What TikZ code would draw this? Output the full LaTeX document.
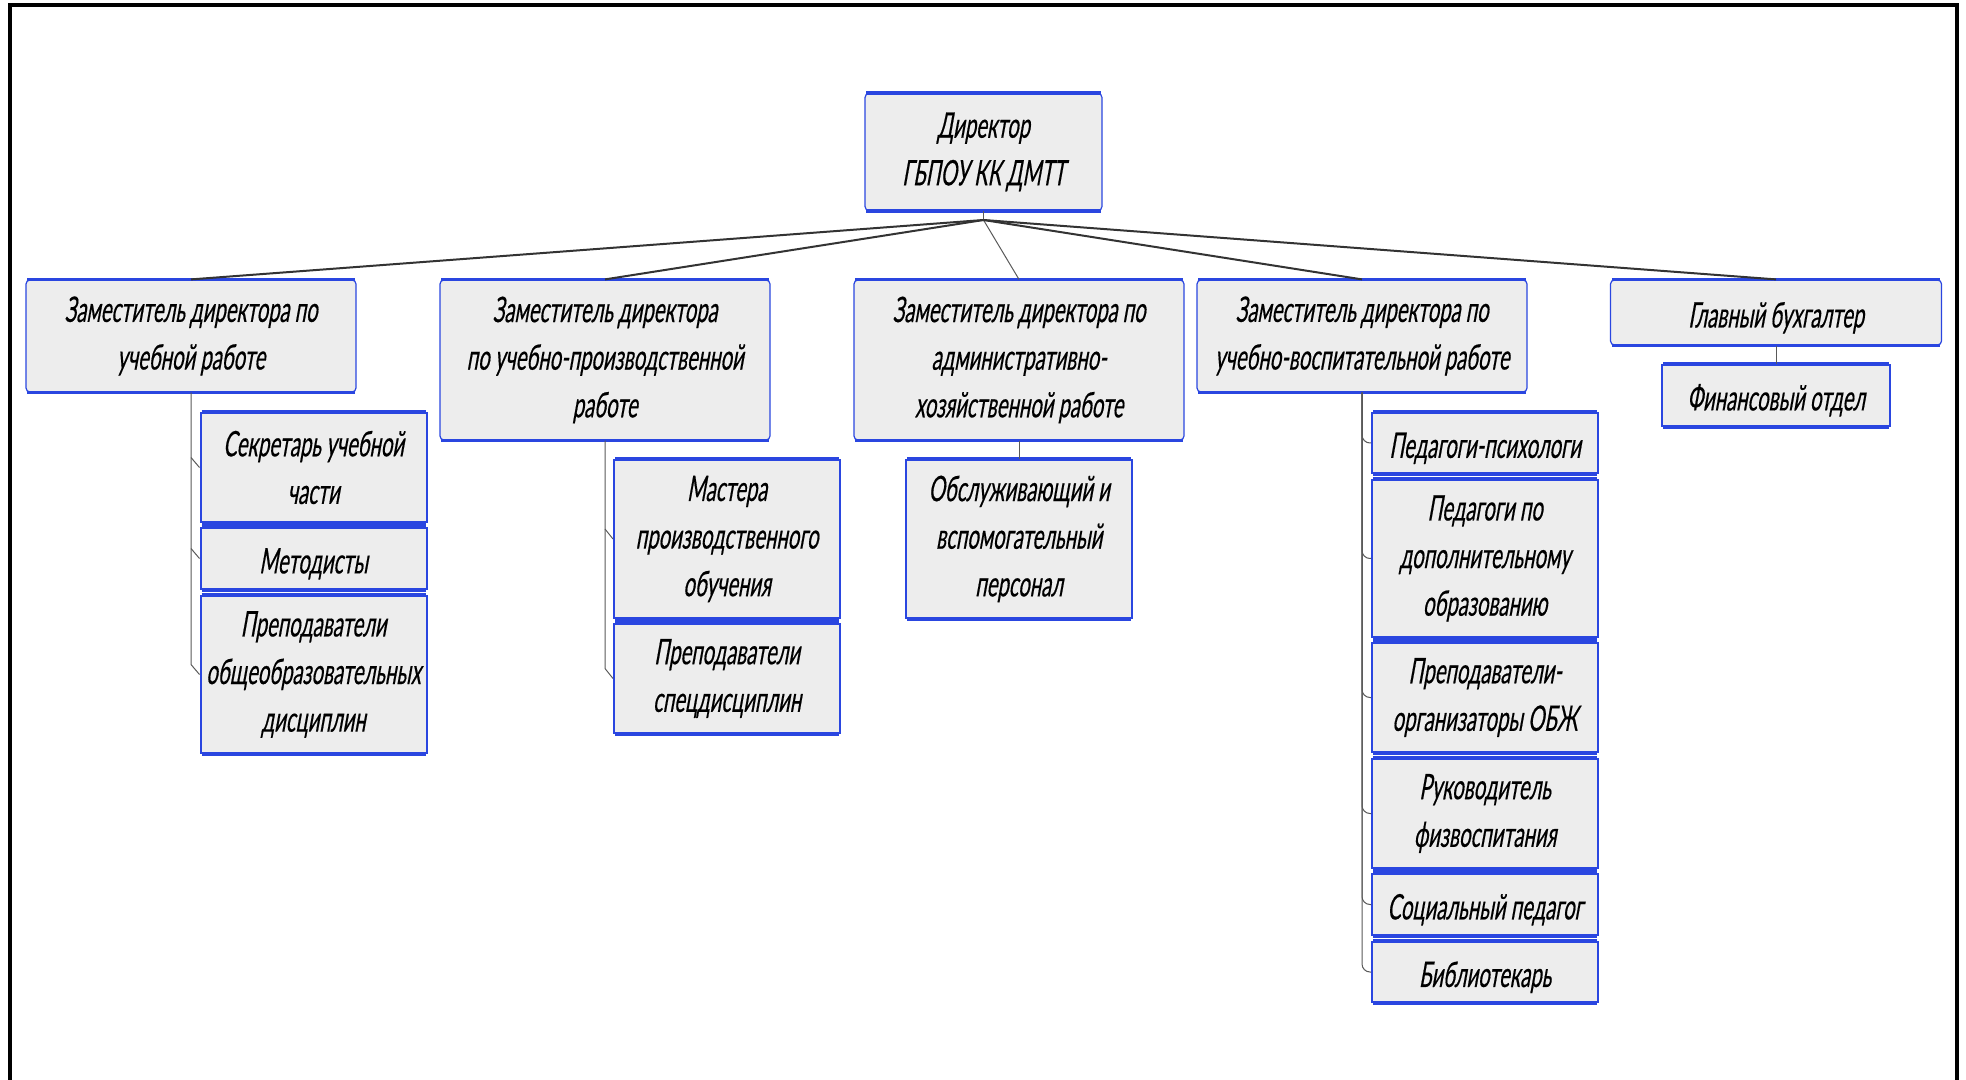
\documentclass[tikz,border=0pt]{standalone}
\usepackage{fontspec}
\usetikzlibrary{calc}
\newfontfamily\orgfont{Lato}[FakeStretch=0.575,FakeSlant=0.18,FakeBold=0.4]
\definecolor{orgblue}{HTML}{2A46E0}
\definecolor{boxgray}{HTML}{EDEDED}

\tikzstyle{boxedge} = [append after command={
	([xshift=1pt]\tikzlastnode.north west) edge[draw=orgblue,line width=1.7pt] ([xshift=-1pt]\tikzlastnode.north east)
	([xshift=1pt]\tikzlastnode.south west) edge[draw=orgblue,line width=1.7pt] ([xshift=-1pt]\tikzlastnode.south east)}]
\tikzstyle{head} = [draw=orgblue,fill=boxgray,line width=0.6pt,rounded corners=2pt,
	inner sep=0pt,align=center,font=\orgfont\fontsize{17.6}{23.8}\selectfont,
	execute at begin node={\rule{0pt}{18pt}},boxedge]
\tikzstyle{leaf} = [draw=orgblue,fill=boxgray,line width=1pt,minimum width=113pt,
	inner sep=0pt,align=center,font=\orgfont\fontsize{17.6}{23.8}\selectfont,
	execute at begin node={\rule{0pt}{18pt}},boxedge]
\tikzstyle{fan} = [draw=black!80,line width=1pt]
\tikzstyle{branch} = [draw=black!65,line width=0.5pt]

\begin{document}
\begin{tikzpicture}[x=0.5pt,y=-0.5pt]
	\useasboundingbox (0,0) rectangle (1966,1080);
	\draw[line width=1.6pt] (10,1090) -- (10,5) -- (1957,5) -- (1957,1090);

	\node[head,minimum width=118.5pt,minimum height=58.5pt] (dir) at (983.5,152) {Директор\\ГБПОУ КК ДМТТ};

	\node[head,minimum width=165pt,minimum height=56pt] (za) at (191,336) {Заместитель директора по\\учебной работе};
	\node[head,minimum width=165pt,minimum height=80pt] (zb) at (605,360) {Заместитель директора\\по учебно-производственной\\работе};
	\node[head,minimum width=165pt,minimum height=80pt] (zc) at (1019,360) {Заместитель директора по\\административно-\\хозяйственной работе};
	\node[head,minimum width=165pt,minimum height=56pt] (zd) at (1362,336) {Заместитель директора по\\учебно-воспитательной работе};
	\node[head,minimum width=165.5pt,minimum height=32.5pt] (zg) at (1776,312.5) {Главный бухгалтер};

	\node[leaf,minimum height=54.5pt] (a1) at (313.5,467.5) {Секретарь учебной\\части};
	\node[leaf,minimum height=30.5pt] (a2) at (313.5,558.5) {Методисты};
	\node[leaf,minimum height=78.5pt] (a3) at (313.5,674.5) {Преподаватели\\общеобразовательных\\дисциплин};

	\node[leaf,minimum height=79pt] (b1) at (727,539) {Мастера\\производственного\\обучения};
	\node[leaf,minimum height=54.5pt] (b2) at (727,678.5) {Преподаватели\\спецдисциплин};

	\node[leaf,minimum height=79pt] (c1) at (1019,539) {Обслуживающий и\\вспомогательный\\персонал};

	\node[leaf,minimum height=30pt] (d1) at (1485,443) {Педагоги-психологи};
	\node[leaf,minimum height=78.5pt] (d2) at (1485,558.5) {Педагоги по\\дополнительному\\образованию};
	\node[leaf,minimum height=54.5pt] (d3) at (1485,697.5) {Преподаватели-\\организаторы ОБЖ};
	\node[leaf,minimum height=54.5pt] (d4) at (1485,813.5) {Руководитель\\физвоспитания};
	\node[leaf,minimum height=30.5pt] (d5) at (1485,904.5) {Социальный педагог};
	\node[leaf,minimum height=30pt] (d6) at (1485,972) {Библиотекарь};

	\node[leaf,minimum width=114pt,minimum height=30.5pt] (g1) at (1776,395.5) {Финансовый отдел};

	\coordinate (hub) at (983.5,220);
	\draw[branch] (dir.south) -- (hub);
	\draw[fan] (hub) -- (za.north);
	\draw[fan] (hub) -- (zb.north);
	\draw[branch] (hub) -- (zc.north);
	\draw[fan] (hub) -- (zd.north);
	\draw[fan] (hub) -- (zg.north);

	\draw[branch] (za.south) -- ($(za.south |- a3.west)+(0,-10)$) -- (a3.west);
	\draw[branch] ($(za.south |- a1.west)+(0,-10)$) -- (a1.west);
	\draw[branch] ($(za.south |- a2.west)+(0,-10)$) -- (a2.west);

	\draw[branch] (zb.south) -- ($(zb.south |- b2.west)+(0,-10)$) -- (b2.west);
	\draw[branch] ($(zb.south |- b1.west)+(0,-10)$) -- (b1.west);

	\draw[branch] (zc.south) -- (c1.north);
	\draw[branch] (zg.south) -- (g1.north);

	\draw[branch,rounded corners=4pt] (zd.south) |- (d6.west);
	\draw[branch,rounded corners=4pt] (zd.south) |- (d1.west);
	\draw[branch,rounded corners=4pt] (zd.south) |- (d2.west);
	\draw[branch,rounded corners=4pt] (zd.south) |- (d3.west);
	\draw[branch,rounded corners=4pt] (zd.south) |- (d4.west);
	\draw[branch,rounded corners=4pt] (zd.south) |- (d5.west);
\end{tikzpicture}
\end{document}
